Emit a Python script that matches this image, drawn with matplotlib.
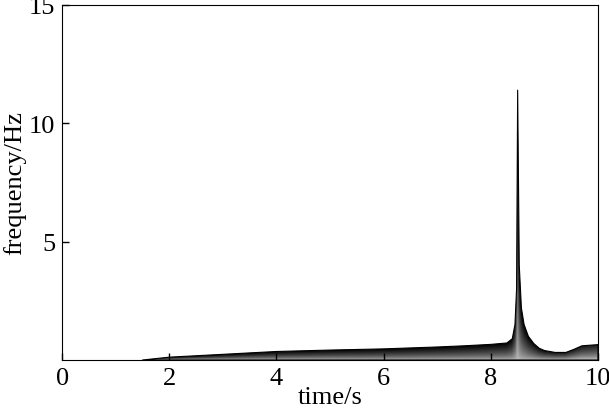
import numpy as np
import matplotlib
matplotlib.use('Agg')
import matplotlib.pyplot as plt

plt.rcParams['font.family'] = ['Liberation Serif', 'DejaVu Serif']
plt.rcParams['font.size'] = 19

# upper edge of the instantaneous frequency band
t = [1.5, 2.0, 2.5, 3.0, 3.5, 4.0, 5.0, 6.0, 7.0, 7.5, 8.0, 8.3, 8.4, 8.45,
     8.48, 8.5, 8.53, 8.57, 8.62, 8.7, 8.8, 8.9, 9.0, 9.2, 9.4, 9.55, 9.7, 10.0]
freq = [0.0, 0.12, 0.18, 0.24, 0.3, 0.36, 0.42, 0.47, 0.55, 0.6, 0.66, 0.72,
        0.9, 1.5, 3.0, 11.4, 4.0, 2.2, 1.5, 1.0, 0.7, 0.5, 0.4, 0.32, 0.32,
        0.45, 0.6, 0.65]

fig = plt.figure(figsize=(6.09, 4.10), dpi=100)
ax = fig.add_axes([0.102, 0.1195, 0.880, 0.866])

# grey shading: dark at the top edge, lighter towards zero
xs = np.linspace(0, 10, 800)
ys = np.linspace(0, 15, 900)
X, Y = np.meshgrid(xs, ys)
env = np.interp(xs, t, freq)
env = np.where(env <= 0, 1e-3, env)
rel = np.clip(Y / env[None, :], 0, 1)
shade = 0.75 - 0.75 * rel ** 0.6 + 0.1 * (xs[None, :] - 8.5).clip(0) / 1.5
im = ax.imshow(shade, extent=[0, 10, 0, 15], origin='lower', cmap='gray',
               vmin=0, vmax=1, aspect='auto', interpolation='bilinear')
poly = ax.fill_between(t, 0, freq, facecolor='none', edgecolor='black', lw=0.8)
im.set_clip_path(poly.get_paths()[0], transform=ax.transData)

ax.set_xlim(0, 10)
ax.set_ylim(0, 15)
ax.set_xticks([0, 2, 4, 6, 8, 10])
ax.set_yticks([5, 10, 15])
ax.tick_params(direction='in', length=5, width=1, pad=5)
ax.set_xlabel('time/s', labelpad=-2)
ax.set_ylabel('frequency/Hz', labelpad=2)

plt.savefig('out.png', dpi=100)
